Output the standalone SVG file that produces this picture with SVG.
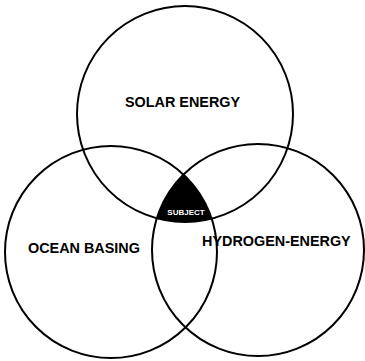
<svg xmlns="http://www.w3.org/2000/svg" width="365" height="361" viewBox="0 0 365 361">
<style>
.c{fill:none;stroke:#000;stroke-width:2}
.t{font-family:"Liberation Sans",Arial,sans-serif;font-weight:bold;font-size:14.4px;fill:#000}
.s{font-family:"Liberation Sans",Arial,sans-serif;font-weight:bold;font-size:8px;fill:#fff}
</style>
<defs>
<clipPath id="clipL"><circle cx="111" cy="252" r="106"/></clipPath>
<clipPath id="clipR"><circle cx="258" cy="250" r="106"/></clipPath>
</defs>
<rect width="365" height="361" fill="#fff"/>
<g id="subject">
<g clip-path="url(#clipR)"><g clip-path="url(#clipL)"><circle cx="185" cy="114" r="108" fill="#000"/></g></g>
<text class="s" x="186" y="215" text-anchor="middle">SUBJECT</text>
</g>
<g id="solar">
<circle class="c" cx="185" cy="114" r="108"/>
<text class="t" x="182.5" y="107" text-anchor="middle">SOLAR ENERGY</text>
</g>
<g id="ocean">
<circle class="c" cx="111" cy="252" r="106"/>
<text class="t" x="28" y="253">OCEAN BASING</text>
</g>
<g id="hydrogen">
<circle class="c" cx="258" cy="250" r="106"/>
<text class="t" x="202" y="246">HYDROGEN-ENERGY</text>
</g>
<g id="connectors"></g>
</svg>
